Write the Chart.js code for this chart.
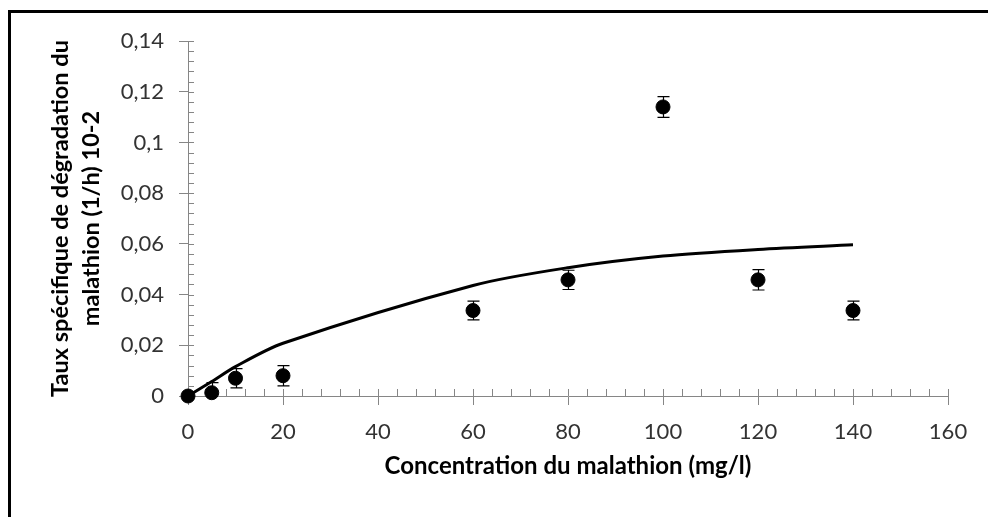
<!DOCTYPE html>
<html>
<head>
<meta charset="utf-8">
<script src="https://cdn.jsdelivr.net/npm/chart.js@4.4.1/dist/chart.umd.min.js"></script>
<style>
  html, body { margin: 0; padding: 0; background: #fff; }
  #wrap { position: relative; width: 988px; height: 517px; overflow: hidden; }
  #frame { position: absolute; left: 8px; top: 10px; width: 1200px; height: 800px;
           border-left: 3px solid #000; border-top: 3px solid #000; }
  #c { position: absolute; left: 0; top: 0; }
</style>
</head>
<body>
<div id="wrap">
  <div id="frame"></div>
  <canvas id="c" width="988" height="517"></canvas>
</div>
<script>
// concentrations (mg/l) et taux mesurés avec écarts
const concentrations = [0, 5, 10, 20, 60, 80, 100, 120, 140];
const tauxMesures = [0, 0.0013, 0.007, 0.008, 0.0337, 0.0458, 0.114, 0.0458, 0.0337];
const ecarts = [0, 0.004, 0.0038, 0.004, 0.0037, 0.0038, 0.0041, 0.004, 0.0037];
// courbe du modèle aux mêmes concentrations
const tauxModele = [0, 0.0057, 0.0116, 0.0208, 0.0436, 0.0506, 0.0552, 0.0578, 0.0596];

const axeX = { min: 0, max: 160, pas: 20, mineur: 4 };
const axeY = { min: 0, max: 0.14, pas: 0.02, mineur: 0.004 };

const gris = '#868686';

const pointsMesures = concentrations.map((x, i) => ({ x: x, y: tauxMesures[i] }));
const pointsModele = concentrations.map((x, i) => ({ x: x, y: tauxModele[i] }));

function virgule(v) {
    return String(Math.round(v * 100) / 100).replace('.', ',');
}

// petites graduations + partie intérieure des grandes
const graduations = {
    id: 'graduations',
    beforeDatasetsDraw(chart) {
        const { ctx, scales: { x, y } } = chart;
        const x0 = x.getPixelForValue(axeX.min);
        const y0 = y.getPixelForValue(axeY.min);
        ctx.save();
        ctx.strokeStyle = gris;
        ctx.lineWidth = 1;
        ctx.beginPath();
        const ny = Math.round((axeY.max - axeY.min) / axeY.mineur);
        for (let i = 1; i <= ny; i++) {
            const py = Math.round(y.getPixelForValue(axeY.min + i * axeY.mineur)) + 0.5;
            ctx.moveTo(x0, py);
            ctx.lineTo(x0 + 6, py);
        }
        const nx = Math.round((axeX.max - axeX.min) / axeX.mineur);
        for (let i = 1; i <= nx; i++) {
            const px = Math.round(x.getPixelForValue(axeX.min + i * axeX.mineur)) + 0.5;
            ctx.moveTo(px, y0);
            ctx.lineTo(px, y0 - 7);
        }
        ctx.stroke();
        ctx.restore();
    }
};

// barres d'erreur des mesures
const barresErreur = {
    id: 'barresErreur',
    beforeDatasetsDraw(chart) {
        const { ctx, chartArea, scales: { x, y } } = chart;
        ctx.save();
        ctx.beginPath();
        ctx.rect(chartArea.left - 20, chartArea.top - 20,
                 chartArea.right - chartArea.left + 40, chartArea.bottom - chartArea.top + 20);
        ctx.clip();
        ctx.strokeStyle = '#000';
        ctx.lineWidth = 1.2;
        ctx.beginPath();
        concentrations.forEach((c, i) => {
            if (!ecarts[i]) return;
            const px = Math.round(x.getPixelForValue(c)) + 0.5;
            const haut = y.getPixelForValue(tauxMesures[i] + ecarts[i]);
            const bas = y.getPixelForValue(tauxMesures[i] - ecarts[i]);
            ctx.moveTo(px, haut);
            ctx.lineTo(px, bas);
            ctx.moveTo(px - 6, haut);
            ctx.lineTo(px + 6, haut);
            ctx.moveTo(px - 6, bas);
            ctx.lineTo(px + 6, bas);
        });
        ctx.stroke();
        ctx.restore();
    }
};

new Chart(document.getElementById('c'), {
    type: 'scatter',
    data: {
        datasets: [
            {
                label: 'Modèle',
                type: 'line',
                data: pointsModele,
                borderColor: '#000',
                borderWidth: 3,
                pointRadius: 0,
                tension: 0.3,
                fill: false,
                clip: false
            },
            {
                label: 'Mesures',
                data: pointsMesures,
                backgroundColor: '#000',
                borderColor: '#000',
                pointRadius: 7,
                pointHoverRadius: 7,
                clip: false
            }
        ]
    },
    options: {
        responsive: false,
        animation: false,
        events: [],
        layout: { padding: { left: 0, right: 40, top: 41, bottom: 0 } },
        plugins: {
            legend: { display: false },
            tooltip: { enabled: false }
        },
        scales: {
            x: {
                type: 'linear',
                min: axeX.min,
                max: axeX.max,
                afterFit(scale) { scale.height = 121; },
                ticks: {
                    stepSize: axeX.pas,
                    color: '#333',
                    padding: 14,
                    font: { family: 'Lato', size: 22 }
                },
                grid: {
                    drawOnChartArea: false,
                    color: gris,
                    tickLength: 9
                },
                border: { color: gris, width: 1 },
                title: {
                    display: true,
                    text: 'Concentration du malathion (mg/l)',
                    color: '#000',
                    font: { family: 'Lato', size: 24, weight: 'bold' },
                    padding: { top: 0, bottom: 36 }
                }
            },
            y: {
                type: 'linear',
                min: axeY.min,
                max: axeY.max,
                afterFit(scale) { scale.width = 188; },
                ticks: {
                    stepSize: axeY.pas,
                    color: '#333',
                    padding: 15,
                    font: { family: 'Lato', size: 22 },
                    callback: v => virgule(v)
                },
                grid: {
                    drawOnChartArea: false,
                    color: gris,
                    tickLength: 9
                },
                border: { color: gris, width: 1 },
                title: {
                    display: true,
                    text: ['Taux spécifique de dégradation du', 'malathion (1/h) 10-2'],
                    color: '#000',
                    font: { family: 'Lato', size: 23.5, weight: 'bold', lineHeight: '31px' },
                    padding: { top: 45, bottom: 0 }
                }
            }
        }
    },
    plugins: [graduations, barresErreur]
});
</script>
</body>
</html>
